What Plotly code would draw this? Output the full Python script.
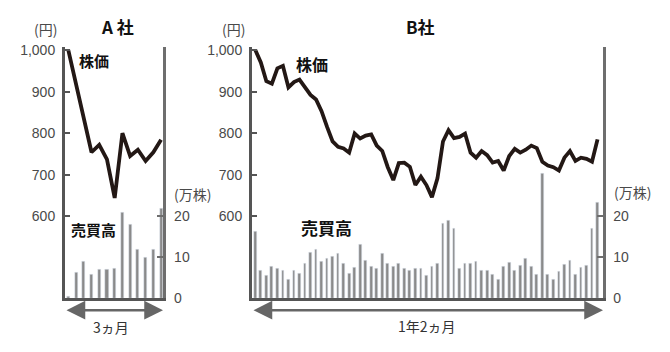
import plotly.graph_objects as go

W, H = 670, 352

# ---- data ----
a_price = [1000, 915, 835, 754, 772, 737, 644, 800, 745, 760, 733, 754, 784]
a_volume = [0.4, 6.3, 8.9, 5.7, 6.9, 7.0, 7.1, 20.7, 17.8, 11.7, 9.9, 11.7, 21.7]

b_price = [1000, 970, 925, 919, 956, 962, 910, 923, 929, 912, 892, 881, 853, 815,
           780, 767, 763, 753, 799, 787, 794, 797, 770, 757, 718, 687, 728, 729,
           719, 675, 695, 675, 646, 691, 780, 807, 788, 791, 799, 753, 741, 757,
           747, 729, 733, 710, 745, 762, 753, 760, 770, 764, 731, 722, 718, 710,
           741, 757, 733, 741, 738, 731, 785]
b_volume = [16.2, 6.7, 5.6, 7.6, 7.3, 6.7, 4.6, 6.6, 6.0, 8.5, 11.1, 11.8, 8.8, 9.6,
            10.0, 10.8, 8.5, 6.0, 7.5, 12.9, 9.2, 7.6, 7.2, 10.8, 8.5, 7.6, 8.5, 7.1,
            6.7, 7.2, 7.2, 5.6, 7.6, 8.3, 18.2, 18.7, 16.9, 7.2, 8.5, 8.5, 8.9, 6.7,
            6.7, 5.8, 4.6, 7.6, 8.6, 6.6, 7.8, 9.6, 7.7, 5.8, 30.1, 5.8, 4.6, 6.4,
            8.2, 9.1, 5.8, 7.4, 8.0, 16.9, 23.1]

price_ticks = [600, 700, 800, 900, 1000]
price_ticktext = ["600", "700", "800", "900", "1,000"]
volume_ticks = [0, 10, 20]
volume_ticktext = ["0", "10", "20"]

a_days = list(range(len(a_price)))
b_days = list(range(len(b_price)))

# ---- style ----
JP = "Noto Sans CJK JP"
NUM = "Liberation Sans, Arial, sans-serif"
LINE_C = "#231815"
BAR_C = "#8a8a8a"
AX_C = "#555555"
TXT_C = "#4a4a4a"


def px(x):
    return x / W


def py(y):
    return 1 - y / H


TOP, BOT = 44.0, 304.5
price_rng = [1000 - (BOT - 47.7) / 0.43, 1000 + (47.7 - TOP) / 0.43]
vol_rng = [0, (BOT - TOP) / 4.27]

fig = go.Figure()
fig.add_trace(go.Bar(x=a_days, y=a_volume, marker_color=BAR_C, width=0.4,
                     xaxis="x", yaxis="y", showlegend=False))
fig.add_trace(go.Scatter(x=a_days, y=a_price, mode="lines",
                         line=dict(color=LINE_C, width=3.8),
                         xaxis="x", yaxis="y2", showlegend=False))
fig.add_trace(go.Bar(x=b_days, y=b_volume, marker_color=BAR_C, width=0.5,
                     xaxis="x2", yaxis="y3", showlegend=False))
fig.add_trace(go.Scatter(x=b_days, y=b_price, mode="lines",
                         line=dict(color=LINE_C, width=3.8),
                         xaxis="x2", yaxis="y4", showlegend=False))

dom_y = [py(BOT), py(TOP)]


def xax(dom, rng):
    return dict(domain=dom, range=rng, showline=True, linecolor=AX_C, linewidth=3,
                showgrid=False, zeroline=False, showticklabels=False, ticks="",
                fixedrange=True)


def vol_ax(anchor):
    return dict(domain=dom_y, range=vol_rng, side="right", anchor=anchor,
                showline=True, linecolor="#6e6e6e", linewidth=3, showgrid=False,
                zeroline=False, tickvals=volume_ticks, ticktext=volume_ticktext,
                ticks="inside", ticklen=6, tickwidth=2, tickcolor="#6e6e6e",
                ticklabelstandoff=5,
                tickfont=dict(family=NUM, size=14, color=TXT_C))


def price_ax(anchor, overlay):
    return dict(domain=dom_y, range=price_rng, side="left", anchor=anchor,
                overlaying=overlay, showline=True, linecolor=AX_C, linewidth=3,
                showgrid=False, zeroline=False, tickvals=price_ticks,
                ticktext=price_ticktext, ticks="inside", ticklen=5, tickwidth=2,
                tickcolor=AX_C, ticklabelstandoff=4,
                tickfont=dict(family=NUM, size=14, color=TXT_C))


fig.update_layout(
    width=W, height=H, margin=dict(l=0, r=0, t=0, b=0),
    paper_bgcolor="white", plot_bgcolor="rgba(0,0,0,0)",
    xaxis=xax([px(65), px(163.3)], [-0.43, 12.29]),
    yaxis=vol_ax("x"),
    yaxis2=price_ax("x", "y"),
    xaxis2=xax([px(252), px(602.5)], [-0.6, 62.9]),
    yaxis3=vol_ax("x2"),
    yaxis4=price_ax("x2", "y3"),
    bargap=0,
)

ann = []


def text(x, y, s, size, color="#222", bold=False, xanchor="center", family=JP):
    ann.append(dict(x=px(x), y=py(y), xref="paper", yref="paper",
                    text=(f"<b>{s}</b>" if bold else s),
                    showarrow=False, xanchor=xanchor, yanchor="middle",
                    font=dict(family=family, size=size, color=color)))


text(117, 23, "A 社", 17, "#111", True)
text(420, 23, "B社", 17, "#111", True)
text(45, 26, "(円)", 14, TXT_C)
text(233, 26, "(円)", 14, TXT_C)
text(172, 197, "(万株)", 14, TXT_C, xanchor="left")
text(632, 195, "(万株)", 14, TXT_C)
text(94, 59, "株価", 15, "#111", True)
text(312, 62, "株価", 16, "#111", True)
text(93, 233, "売買高", 15, "#111", True)
text(326, 231, "売買高", 17, "#111", True)
text(111, 334, "3ヵ月", 14, "#333")
text(427, 333, "1年2ヵ月", 14, "#333")


def arrow(x0, x1, y):
    ann.append(dict(x=px(x1), y=py(y), xref="paper", yref="paper",
                    ax=x0 - x1, ay=0, axref="pixel", ayref="pixel", text="",
                    showarrow=True, arrowhead=2, arrowside="end+start",
                    arrowsize=1.5, arrowwidth=2.5, arrowcolor="#666666",
                    standoff=0, startstandoff=0))


arrow(65, 163, 317)
arrow(252, 603, 317)

fig.update_layout(annotations=ann)
fig.write_html("out.html")
